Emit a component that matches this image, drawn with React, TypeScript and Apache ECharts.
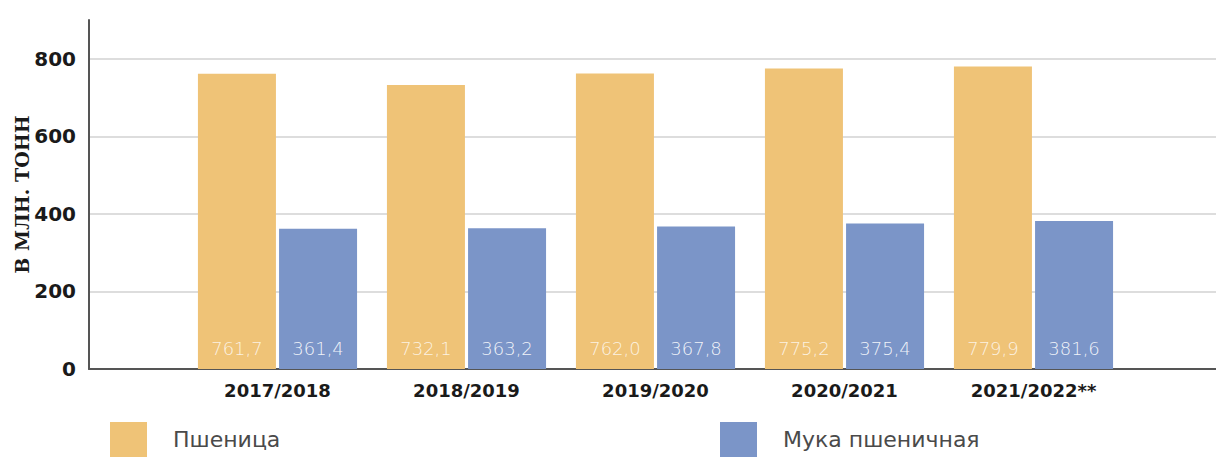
import React, { useEffect, useRef } from "react";
import * as echarts from "echarts";

const categories = ["2017/2018", "2018/2019", "2019/2020", "2020/2021", "2021/2022**"];
const wheat = [761.7, 732.1, 762.0, 775.2, 779.9];
const flour = [361.4, 363.2, 367.8, 375.4, 381.6];
const seriesNames = ["Пшеница", "Мука пшеничная"];
const yAxisName = "В МЛН. ТОНН";

const YELLOW = "#EFC377";
const BLUE = "#7B95C8";
const FONT = "'DejaVu Sans', sans-serif";

const fmt = (v: number) => v.toFixed(1).replace(".", ",");

export default function App() {
  const ref = useRef<HTMLDivElement>(null);
  useEffect(() => {
    if (!ref.current) return;
    const chart = echarts.init(ref.current, undefined, { renderer: "svg" });
    const barLabel = (opacity: number) => ({
      show: true,
      position: "insideBottom" as const,
      distance: 12,
      fontFamily: FONT,
      fontSize: 18,
      fontWeight: 200 as const,
      color: `rgba(255,255,255,${opacity})`,
      formatter: (p: any) => fmt(p.value as number),
    });
    const legendBase = {
      top: 417,
      itemWidth: 37,
      itemHeight: 35,
      icon: "rect",
      textStyle: { fontFamily: FONT, fontSize: 22, color: "#4a4a4a", padding: [0, 0, 0, 21] },
    };
    chart.setOption({
      animation: false,
      backgroundColor: "#ffffff",
      grid: [
        { left: 89, right: 0, top: 20, bottom: 90, outerBoundsMode: "none" },
        { left: 183, right: 88, top: 20, bottom: 90, outerBoundsMode: "none" },
      ],
      xAxis: [
        {
          gridIndex: 0,
          type: "value",
          min: 0,
          max: 1,
          axisLine: { show: true, lineStyle: { color: "#555", width: 2 } },
          axisTick: { show: false },
          axisLabel: { show: false },
          splitLine: { show: false },
        },
        {
          gridIndex: 1,
          type: "category",
          data: categories,
          axisLine: { show: false },
          axisTick: { show: false },
          axisLabel: {
            margin: 12,
            fontFamily: FONT,
            fontSize: 18,
            fontWeight: "bold",
            color: "#1a1a1a",
          },
        },
      ],
      yAxis: [
        {
          gridIndex: 0,
          type: "value",
          min: 0,
          max: 900,
          interval: 200,
          name: yAxisName,
          nameLocation: "middle",
          nameRotate: 90,
          nameGap: 58,
          nameMoveOverlap: false,
          nameTextStyle: {
            fontFamily: "'DejaVu Serif', serif",
            fontWeight: "bold",
            fontSize: 19,
            color: "#1a1a1a",
          },
          axisLine: { show: true, lineStyle: { color: "#555", width: 2 } },
          axisTick: { show: false },
          axisLabel: {
            showMaxLabel: false,
            margin: 13,
            fontFamily: FONT,
            fontSize: 20,
            fontWeight: "bold",
            color: "#1a1a1a",
          },
          splitLine: {
            show: true,
            showMaxLine: false,
            lineStyle: { color: "#dddddd", width: 2 },
          },
        },
        {
          gridIndex: 1,
          type: "value",
          min: 0,
          max: 900,
          interval: 200,
          show: false,
          splitLine: { show: false },
        },
      ],
      legend: [
        { ...legendBase, data: [seriesNames[0]], left: 105 },
        { ...legendBase, data: [seriesNames[1]], left: 715 },
      ],
      series: [
        {
          name: seriesNames[0],
          type: "bar",
          xAxisIndex: 1,
          yAxisIndex: 1,
          data: wheat,
          barWidth: 78,
          barGap: "4%",
          itemStyle: { color: YELLOW },
          label: barLabel(0.8),
        },
        {
          name: seriesNames[1],
          type: "bar",
          xAxisIndex: 1,
          yAxisIndex: 1,
          data: flour,
          barWidth: 78,
          barGap: "4%",
          itemStyle: { color: BLUE },
          label: barLabel(0.9),
        },
      ],
    });
    return () => chart.dispose();
  }, []);
  return (
    <div
      ref={ref}
      style={{ position: "fixed", left: 0, top: 0, width: 1216, height: 459 }}
    />
  );
}
